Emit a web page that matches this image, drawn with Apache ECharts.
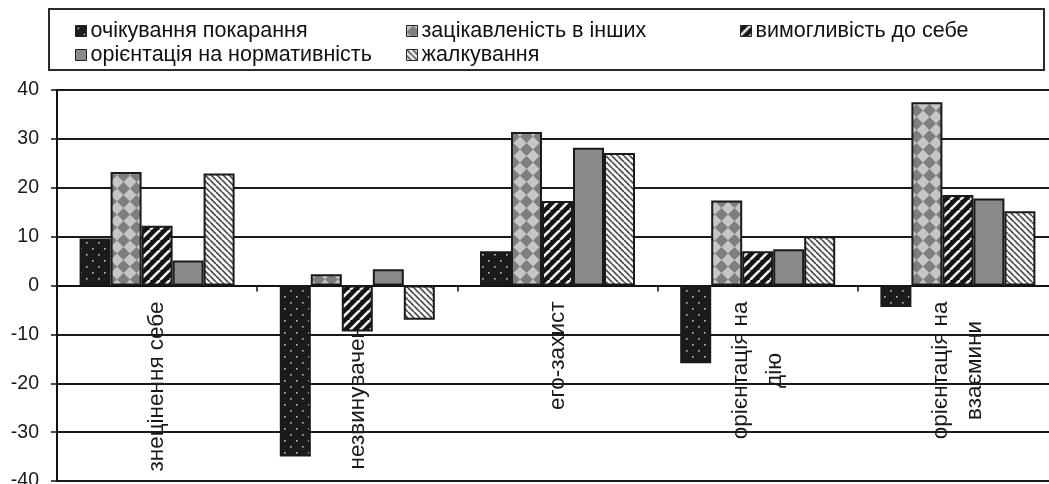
<!DOCTYPE html>
<html><head><meta charset="utf-8">
<script src="https://cdn.jsdelivr.net/npm/echarts@6/dist/echarts.min.js"></script>
<style>html,body{margin:0;padding:0;background:#fff}#c{width:1049px;height:484px}</style>
</head><body><div id="c"></div>
<script>
const categories = ['знецінення себе', 'незвинувачення', 'его-захист', 'орієнтація на\nдію', 'орієнтація на\nвзаємини'];
const seriesNames = ['очікування покарання', 'зацікавленість в інших', 'вимогливість до себе', 'орієнтація на нормативність', 'жалкування'];
const punishment = [9.6, -35.0, 7.0, -15.9, -4.4];
const interest = [23.2, 2.3, 31.4, 17.4, 37.5];
const selfDemand = [12.2, -9.4, 17.3, 7.0, 18.5];
const normative = [5.1, 3.3, 28.2, 7.4, 17.8];
const regret = [22.9, -7.0, 27.1, 10.1, 15.2];
const yTicks = [-40, -30, -20, -10, 0, 10, 20, 30, 40];

function tile(s, draw) {
  const c = document.createElement('canvas'); c.width = s; c.height = s;
  const g = c.getContext('2d'); draw(g, s); return c;
}
const patDots = tile(12, (g, s) => {
  g.fillStyle = '#1c1c1c'; g.fillRect(0, 0, s, s);
  g.fillStyle = '#bdbdbd';
  g.fillRect(2, 2, 1.6, 1.6); g.fillRect(8, 8, 1.6, 1.6);
});
const patDiamond = tile(13, (g, s) => {
  g.fillStyle = '#c6c6c6'; g.fillRect(0, 0, s, s);
  g.fillStyle = '#7e7e7e';
  g.beginPath(); g.moveTo(s / 2, 0); g.lineTo(s, s / 2); g.lineTo(s / 2, s); g.lineTo(0, s / 2); g.closePath(); g.fill();
});
const patWide = tile(10, (g, s) => {
  g.fillStyle = '#151515'; g.fillRect(0, 0, s, s);
  g.strokeStyle = '#f2f2f2'; g.lineWidth = 2.6;
  for (const k of [-s, 0, s]) { g.beginPath(); g.moveTo(k, s); g.lineTo(k + s, 0); g.stroke(); }
});
const patFine = tile(6, (g, s) => {
  g.fillStyle = '#f4f4f4'; g.fillRect(0, 0, s, s);
  g.strokeStyle = '#3a3a3a'; g.lineWidth = 1.5;
  for (const k of [-s, 0, s]) { g.beginPath(); g.moveTo(k, 0); g.lineTo(k + s, s); g.stroke(); }
});
const fills = [
  {image: patDots, repeat: 'repeat'},
  {image: patDiamond, repeat: 'repeat'},
  {image: patWide, repeat: 'repeat'},
  '#8a8a8a',
  {image: patFine, repeat: 'repeat'}
];
const dataSets = [punishment, interest, selfDemand, normative, regret];

const FONT = 'Liberation Sans, Arial, sans-serif';
const legendPos = [[70, 15], [401, 15], [735, 15], [70, 39], [401, 39]];
const legends = seriesNames.map((n, i) => ({
  data: [n], left: legendPos[i][0], top: legendPos[i][1],
  icon: 'rect', itemWidth: 11, itemHeight: 11, itemGap: 4,
  itemStyle: {borderColor: '#222', borderWidth: 1},
  textStyle: {fontFamily: FONT, fontSize: 21.5, color: '#111', padding: [0, 0, 0, -1]},
  selectedMode: false
}));

const gridTop = 90, gridBottom = 3, H = 484;
const plotH = H - gridTop - gridBottom;
const zeroOffset = plotH * (0 - yTicks[0]) / (yTicks[yTicks.length - 1] - yTicks[0]);

const chart = echarts.init(document.getElementById('c'), null, {renderer: 'canvas'});
chart.setOption({
  animation: false,
  backgroundColor: '#fff',
  legend: legends,
  graphic: [{
    type: 'rect', shape: {x: 49, y: 9, width: 995, height: 61},
    style: {fill: 'none', stroke: '#2a2a2a', lineWidth: 2}, z: 100
  }],
  grid: {left: 57, right: -9, top: gridTop, bottom: gridBottom, containLabel: false, outerBoundsMode: 'none'},
  xAxis: {
    type: 'category', data: categories,
    offset: -zeroOffset,
    axisLine: {onZero: false, lineStyle: {color: '#111', width: 2}},
    axisTick: {show: true, inside: false, length: 6, lineStyle: {color: '#111', width: 1.5}},
    axisLabel: {
      interval: 0, rotate: 90, margin: 16,
      fontFamily: FONT, fontSize: 22.5, color: '#1a1a1a',
      formatter: v => v.split('\n').map(t => '{c|' + t + '}').join('\n'),
      rich: {c: {align: 'center', lineHeight: 34, fontFamily: FONT, fontSize: 22.5, color: '#1a1a1a'}}
    },
    z: 0
  },
  yAxis: {
    type: 'value', min: yTicks[0], max: yTicks[yTicks.length - 1], interval: 10,
    axisLine: {show: true, onZero: false, lineStyle: {color: '#111', width: 2}},
    axisTick: {show: true, length: 6, lineStyle: {color: '#111', width: 1.5}},
    axisLabel: {margin: 18, fontFamily: FONT, fontSize: 19.5, color: '#1a1a1a'},
    splitLine: {show: true, lineStyle: {color: '#1a1a1a', width: 2}}
  },
  series: dataSets.map((d, i) => ({
    name: seriesNames[i], type: 'bar', data: d,
    barWidth: 31, barGap: '0%',
    itemStyle: {color: fills[i], borderColor: '#1a1a1a', borderWidth: 2},
    z: 2
  }))
});
</script></body></html>
